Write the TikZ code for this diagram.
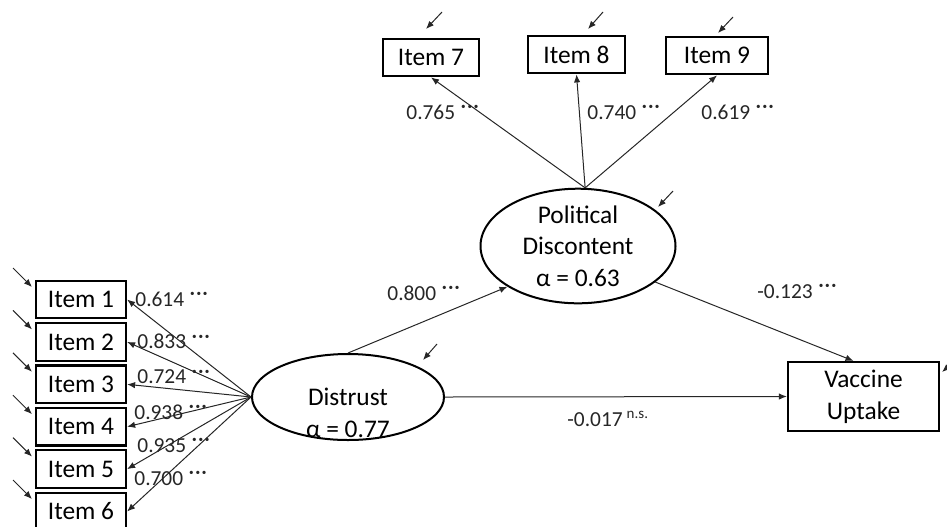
\documentclass[tikz,border=0pt]{standalone}
\usepackage{fontspec}
\setmainfont{Carlito}
\usetikzlibrary{shapes.geometric,arrows.meta}
\newcommand{\sigstars}{\hspace{3pt}\raisebox{4.6pt}{\fontsize{4.6}{5}\selectfont •\kern.9pt•\kern.9pt•}}
\newcommand{\signs}{\hspace{2pt}\raisebox{4pt}{\fontsize{7.5}{7.5}\selectfont n.s.}}

\begin{document}
\begin{tikzpicture}[
    x=0.5pt, y=-0.5pt,
    arr/.style={-{Latex[length=4pt,width=3.2pt]}, line width=.5pt, draw=black!85},
    obs/.style={rectangle, draw=black, line width=1.1pt, minimum width=46pt, minimum height=18.8pt,
        inner sep=0pt, font=\fontsize{12.7}{15.8}\selectfont},
    lat/.style={ellipse, draw=black, line width=1pt, inner sep=0pt, align=center,
        font=\fontsize{12.7}{15.8}\selectfont},
    coef/.style={anchor=base west, inner sep=0pt, font=\fontsize{10.7}{12}\selectfont, text=black!85}
  ]
  \useasboundingbox (0,0) rectangle (947,526);

  % distrust items
  \foreach \i in {1,...,6} {
    \node[obs, minimum width=45pt] (it\i) at (81, {299.5+42.4*(\i-1)}) {Item \i};
    \draw[arr] (13, {268+42.4*(\i-1)}) -- ++(19,19);
  }
  % discontent items
  \node[obs, minimum width=48pt] (it7) at (431,57.5) {Item 7};
  \node[obs, minimum width=48.5pt] (it8) at (576.5,54.5) {Item 8};
  \node[obs, minimum width=51pt] (it9) at (717,55.5) {Item 9};

  \node[lat, minimum width=96pt, minimum height=43pt] (dis) at (348,397) {};
  \node[lat, draw=none] (distxt) at (348,413) {Distrust\\α = 0.77};
  \node[lat, minimum width=97.5pt, minimum height=53pt] (pd) at (578,246) {Political\\Discontent\\α = 0.63};
  \node[obs, minimum width=75.5pt, minimum height=34.5pt, align=center] (vu) at (863.5,396.5) {Vaccine\\Uptake};

  % error terms
  \foreach \xa/\ya/\xb/\yb in {442/12/426/29, 603/12/588/29, 733/17/718/33, 673/191/658/207,
      437/344/423/360, 962/355/942/372}
    \draw[arr] (\xa,\ya) -- (\xb,\yb);

  % paths
  \foreach \i in {1,...,6}
    \draw[arr] (dis.west) -- (it\i.east);
  \foreach \i in {7,8,9}
    \draw[arr] (pd.83) -- (it\i.south);
  \draw[arr] (dis.north) -- (pd.210);
  \draw[arr] (pd.-25) -- ([xshift=-5pt]vu.north);
  \draw[arr] (dis.east) -- (vu.west);

  % coefficients
  \foreach \i/\x/\y/\v in {1/135/306/0.614, 2/137/348.5/0.833, 3/137/383.5/0.724,
      4/134/419/0.938, 5/137/452/0.935, 6/134/485/0.700,
      7/406/119/0.765, 8/587/119/0.740, 9/701/119/0.619}
    \node[coef] (c\i) at (\x,\y) {\v\sigstars};
  \node[coef] (cdp) at (387,300) {0.800\sigstars};
  \node[coef] (cpv) at (757,298) {-0.123\sigstars};
  \node[coef] (cdv) at (567,426) {-0.017\signs};
\end{tikzpicture}
\end{document}
